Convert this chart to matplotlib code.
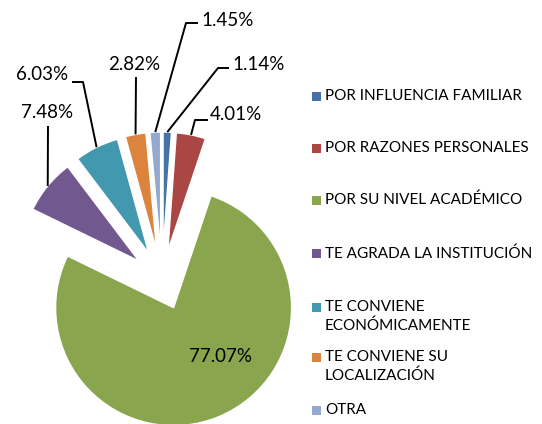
import numpy as np
import matplotlib
matplotlib.use("Agg")
from matplotlib import pyplot as plt
from matplotlib.patches import Rectangle

plt.rcParams['font.family'] = ['Lato', 'DejaVu Sans']

# datos
categorias = ["POR INFLUENCIA FAMILIAR", "POR RAZONES PERSONALES", "POR SU NIVEL ACADÉMICO",
              "TE AGRADA LA INSTITUCIÓN", "TE CONVIENE\nECONÓMICAMENTE",
              "TE CONVIENE SU\nLOCALIZACIÓN", "OTRA"]
porcentajes = [1.14, 4.01, 77.07, 7.48, 6.03, 2.82, 1.45]
colores = ["#4572A7", "#AA4643", "#89A54E", "#71588F", "#4198AF", "#DB843D", "#93A9CF"]

W, H = 542, 424

def P(x, y):
    # coordenadas de imagen -> coordenadas del eje
    return x, H - y

fig = plt.figure(figsize=(W / 100, H / 100), dpi=100)
ax = fig.add_axes([0, 0, 1, 1])

radio = 118
wedges, _ = ax.pie(porcentajes, colors=colores, startangle=90, counterclock=False,
                   center=P(162, 280), radius=radio, explode=[30] * len(porcentajes),
                   wedgeprops=dict(edgecolor='white', linewidth=1))
ax.set_xlim(0, W)
ax.set_ylim(0, H)
ax.set_aspect('equal')
ax.axis('off')

# etiquetas: (codo, fin de linea, texto x, texto y, alineacion)
etiquetas = {
    0: ([(218, 68), (229, 68)], (232, 64), 'left'),
    1: ([(195, 120), (208, 120)], (210, 114), 'left'),
    3: ([(48, 126)], (47, 113), 'center'),
    4: ([(83, 82), (72, 82)], (68, 75), 'right'),
    5: ([(136, 77)], (134, 65), 'center'),
    6: ([(186, 23), (198, 23)], (201, 20), 'left'),
}

for i, w in enumerate(wedges):
    txt = "{:.2f}%".format(porcentajes[i])
    if i not in etiquetas:
        ax.text(*P(220, 356), txt, ha='center', va='center', fontsize=13.5, color='black')
        continue
    puntos, (tx, ty), ha = etiquetas[i]
    medio = np.deg2rad((w.theta1 + w.theta2) / 2)
    cx, cy = w.center
    xs = [cx + w.r * np.cos(medio)] + [P(*p)[0] for p in puntos]
    ys = [cy + w.r * np.sin(medio)] + [P(*p)[1] for p in puntos]
    ax.plot(xs, ys, color='black', lw=1.4, solid_capstyle='butt')
    ax.text(*P(tx, ty), txt, ha=ha, va='center', fontsize=13.5, color='black')

# leyenda
leyenda_y = [96, 148, 200, 253, 307, 357, 410]
for cat, col, y in zip(categorias, colores, leyenda_y):
    x0, y0 = P(312, y + 5)
    ax.add_patch(Rectangle((x0, y0), 9, 9, facecolor=col, edgecolor='none'))
    ax.text(*P(325, y - 7), cat, ha='left', va='top', fontsize=11,
            color='black', linespacing=1.4)

fig.savefig("out.png", dpi=100)
